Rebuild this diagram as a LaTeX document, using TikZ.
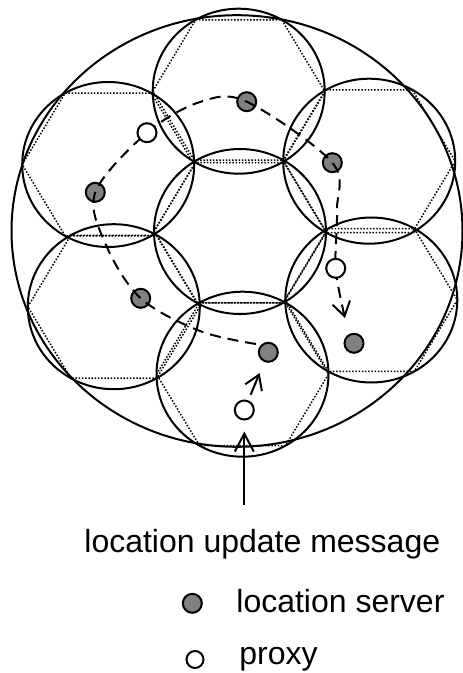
\documentclass[tikz,border=0pt]{standalone}
\usepackage{fontspec}
\setmainfont{Liberation Sans}
\usetikzlibrary{arrows.meta}
\newcommand\drawcell[2]{%
  \begin{scope}[shift={(#1,#2)}]
    \draw[cellline] (0,0) ellipse [x radius=43pt, y radius=41.25pt];
    \draw[hexline] (86,0) -- (43,71.4) -- (-43,71.4) -- (-86,0) -- (-43,-71.4) -- (43,-71.4) -- cycle;
  \end{scope}}
\begin{document}
\begin{tikzpicture}[x=0.5pt,y=-0.5pt,
  cellline/.style={line width=1pt},
  hexline/.style={line width=0.75pt, dash pattern=on 0.75pt off 0.85pt},
  server/.style={circle, draw, line width=1pt, fill=gray, minimum size=9.5pt, inner sep=0pt},
  proxynode/.style={circle, draw, line width=1pt, fill=white, minimum size=9.5pt, inner sep=0pt},
  pathline/.style={line width=1pt, dash pattern=on 5.5pt off 3.5pt},
  barb/.style={-{Straight Barb[length=7pt,width=9pt]}},
  label/.style={anchor=base west, inner sep=0pt, font=\fontsize{16}{19}\selectfont}
]
\useasboundingbox (0,0) rectangle (462,673);
% outer area
\draw[cellline] (237,231) ellipse [x radius=112.75pt, y radius=107.9pt];
% cells
\drawcell{240}{231.5}
\drawcell{238.7}{91.2}
\drawcell{242.5}{374.2}
\drawcell{108.2}{164.5}
\drawcell{113.8}{306.7}
\drawcell{369.2}{161.2}
\drawcell{371.3}{300}
% location servers
\node[server] (g1) at (246.7,101.7) {};
\node[server] (g2) at (332.3,162.7) {};
\node[server] (g3) at (95.3,192.3) {};
\node[server] (g4) at (140.7,298.3) {};
\node[server] (g5) at (268.3,352.3) {};
\node[server] (g6) at (354,343.3) {};
% proxy positions
\coordinate (p1pos) at (147,132.7);
\coordinate (p2pos) at (335.7,268.3);
% dashed route
\coordinate (rs) at (256,344);
\coordinate (re) at (345,318);
\draw[pathline, barb] plot[smooth, tension=0.55] coordinates {(rs) (200,331) (g4) (106,245) (g3) (p1pos) (200,102) (g1) (g2) (337,210) (p2pos) (re)};
% proxies
\node[proxynode] (p1) at (p1pos) {};
\node[proxynode] (p2) at (p2pos) {};
\node[proxynode] (p3) at (244.3,410) {};
% arrows
\draw[line width=1pt, barb, shorten <=3pt, shorten >=6pt] (p3) -- (g5);
\coordinate (tail) at (244.3,505);
\draw[line width=1pt, -{Straight Barb[length=9pt,width=9.5pt]}, shorten >=5.5pt] (tail) -- (p3);
% texts and legend
\node[label] (t1) at (84,552) {location update message};
\node[server] (ls) at (192.3,603.3) {};
\node[label] (t2) at (236,612) {location server};
\node[proxynode, minimum size=8.5pt] (lp) at (195,659.5) {};
\node[label] (t3) at (239,664) {proxy};
\end{tikzpicture}
\end{document}
